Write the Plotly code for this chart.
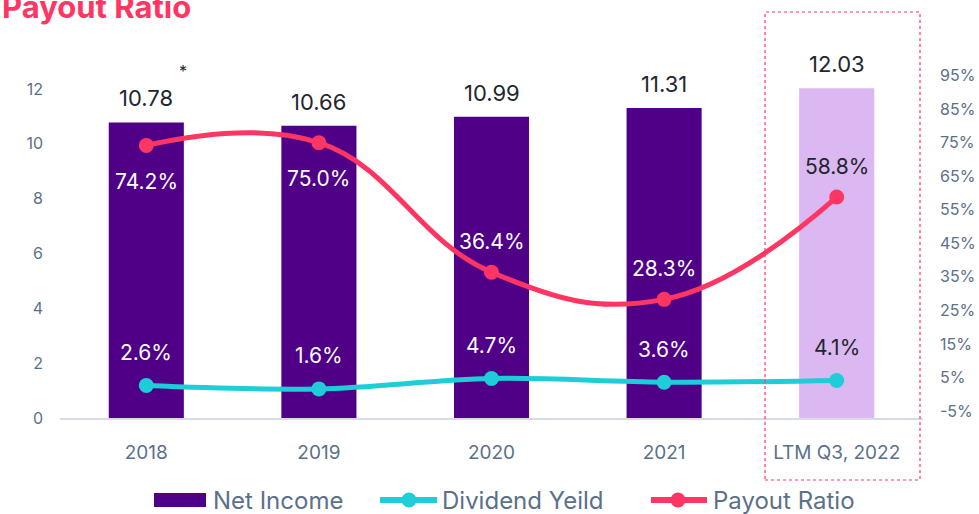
import plotly.graph_objects as go

# ---- data ----
categories = ["2018", "2019", "2020", "2021", "LTM Q3, 2022"]
net_income = [10.78, 10.66, 10.99, 11.31, 12.03]
dividend_yield = [2.6, 1.6, 4.7, 3.6, 4.1]
payout_ratio = [74.2, 75.0, 36.4, 28.3, 58.8]
right_ticks = [-5, 5, 15, 25, 35, 45, 55, 65, 75, 85, 95]
left_ticks = [0, 2, 4, 6, 8, 10, 12]

# ---- style ----
W, H = 979, 514
L, R, T, B = 60, 56, 75, 96
FONT = "Inter"
INDIGO = "#4f0087"
LAVENDER = "#dbb8f1"
PINK = "#ff3563"
CYAN = "#1ecdd8"
SLATE = "#5b7089"
DARK = "#22262e"
payout_label_above = [False, False, True, True, True]

PW, PH = W - L - R, H - T - B


def px(xp):
    return (xp - L) / PW


def py(yp):
    return (H - B - yp) / PH


bar_colors = [INDIGO] * (len(categories) - 1) + [LAVENDER]
label_colors = ["white"] * (len(categories) - 1) + [DARK]
idx = list(range(len(categories)))

fig = go.Figure()
fig.add_trace(go.Bar(
    x=idx, y=net_income, name="Net Income",
    marker=dict(color=bar_colors, line=dict(width=0)),
    width=0.435, showlegend=False,
))
fig.add_trace(go.Scatter(
    x=idx, y=dividend_yield, name="Dividend Yeild", yaxis="y2",
    mode="lines+markers", line=dict(color=CYAN, width=5, shape="spline", smoothing=1.0),
    marker=dict(size=15, color=CYAN), showlegend=False,
))
fig.add_trace(go.Scatter(
    x=idx, y=payout_ratio, name="Payout Ratio", yaxis="y2",
    mode="lines+markers", line=dict(color=PINK, width=5, shape="spline", smoothing=1.2),
    marker=dict(size=15, color=PINK), showlegend=False,
))

annotations = []
# values above the bars
for i, v in zip(idx, net_income):
    annotations.append(dict(x=i, y=v, xref="x", yref="y", text=f"{v:.2f}",
                            showarrow=False, yanchor="bottom", yshift=9,
                            font=dict(family=FONT, size=22, color=DARK)))
annotations.append(dict(x=0, y=net_income[0], xref="x", yref="y", text="*",
                        showarrow=False, xshift=37, yshift=51,
                        font=dict(family=FONT, size=16, color=DARK)))
# payout ratio labels
for i, v, above, col in zip(idx, payout_ratio, payout_label_above, label_colors):
    annotations.append(dict(x=i, y=v, xref="x", yref="y2", text=f"{v:.1f}%",
                            showarrow=False, yanchor="middle",
                            yshift=31 if above else -36,
                            font=dict(family=FONT, size=21, color=col)))
# dividend yield labels
for i, v, col in zip(idx, dividend_yield, label_colors):
    annotations.append(dict(x=i, y=v, xref="x", yref="y2", text=f"{v:.1f}%",
                            showarrow=False, yanchor="middle", yshift=33,
                            font=dict(family=FONT, size=21, color=col)))
# title
annotations.append(dict(x=px(0), y=py(7), xref="paper", yref="paper", text="<b>Payout Ratio</b>",
                        showarrow=False, xanchor="left", yanchor="middle",
                        font=dict(family=FONT, size=31, color=PINK)))

shapes = []
# dotted frame around the latest period
shapes.append(dict(type="rect", xref="paper", yref="paper",
                   x0=px(765), x1=px(920), y0=py(480), y1=py(12),
                   line=dict(color=PINK, width=1.2, dash="dot"), fillcolor="rgba(0,0,0,0)"))

# legend drawn manually
ly = 500
shapes.append(dict(type="rect", xref="paper", yref="paper",
                   x0=px(154), x1=px(206), y0=py(507), y1=py(493),
                   line=dict(width=0), fillcolor=INDIGO))
for (x0, x1, xm, col) in [(380, 437, 409, CYAN), (651, 707, 678, PINK)]:
    shapes.append(dict(type="line", xref="paper", yref="paper",
                       x0=px(x0), x1=px(x1), y0=py(ly), y1=py(ly),
                       line=dict(color=col, width=6)))
    shapes.append(dict(type="circle", xref="paper", yref="paper",
                       x0=px(xm - 7.5), x1=px(xm + 7.5), y0=py(ly + 7.5), y1=py(ly - 7.5),
                       line=dict(width=0), fillcolor=col))
for xs, name in [(211, "Net Income"), (440, "Dividend Yeild"), (711, "Payout Ratio")]:
    annotations.append(dict(x=px(xs), y=py(ly), xref="paper", yref="paper", text=name,
                            showarrow=False, xanchor="left", yanchor="middle",
                            font=dict(family=FONT, size=24, color=SLATE)))

fig.update_layout(
    width=W, height=H,
    margin=dict(l=L, r=R, t=T, b=B, pad=0, autoexpand=False),
    paper_bgcolor="white", plot_bgcolor="white",
    xaxis=dict(range=[-0.5, 4.5], tickvals=idx, ticktext=categories, showgrid=False,
               showline=True, linecolor="#d6dbe4", linewidth=2, ticks="", zeroline=False,
               automargin=False,
               tickfont=dict(family=FONT, size=19, color=SLATE), ticklabelstandoff=16),
    yaxis=dict(range=[0, 12.51], tickvals=left_ticks, showgrid=False, zeroline=False,
               showline=False, ticks="", automargin=False,
               tickfont=dict(family=FONT, size=16, color=SLATE), ticklabelstandoff=16),
    yaxis2=dict(range=[-7.08, 95.2], overlaying="y", side="right", tickvals=right_ticks,
                ticktext=[f"{v}%" for v in right_ticks], showgrid=False, zeroline=False,
                showline=False, ticks="", automargin=False,
                tickfont=dict(family=FONT, size=16, color=SLATE), ticklabelstandoff=16),
    annotations=annotations,
    shapes=shapes,
    showlegend=False,
)

fig.write_html("out.html")
